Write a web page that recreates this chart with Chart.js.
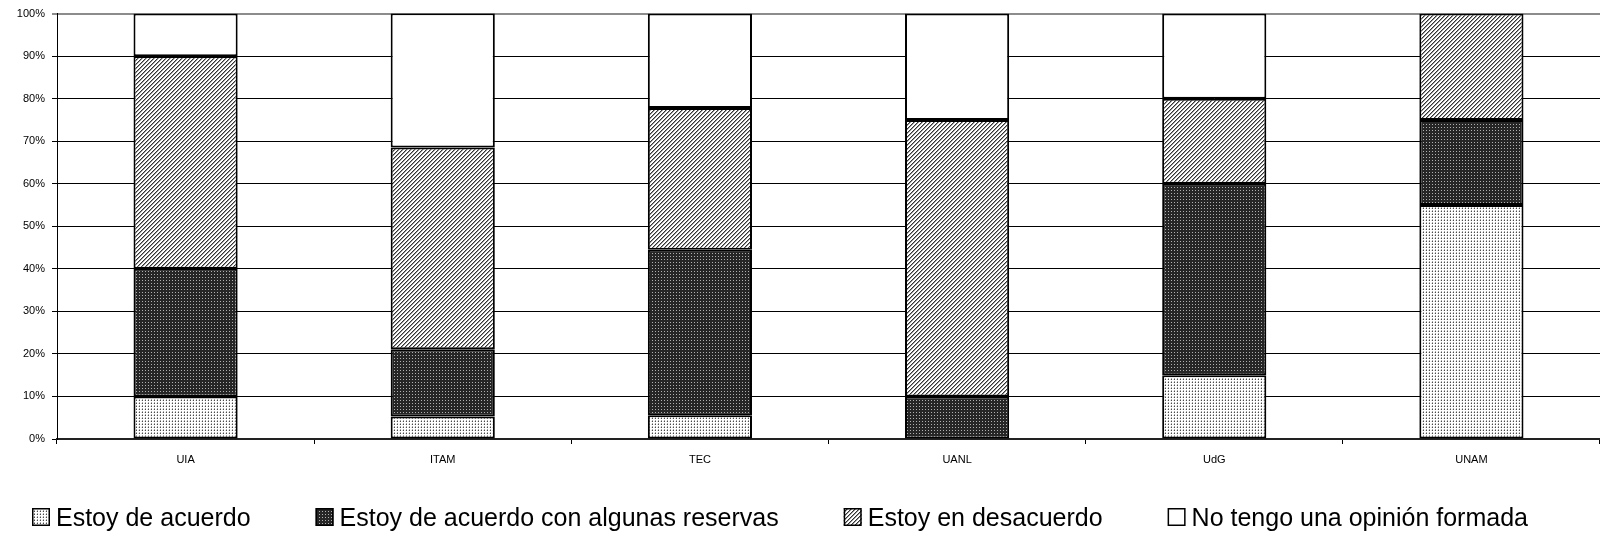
<!DOCTYPE html>
<html>
<head>
<meta charset="utf-8">
<script src="https://cdn.jsdelivr.net/npm/chart.js@4.4.1/dist/chart.umd.min.js"></script>
<style>
  html, body { margin: 0; padding: 0; background: #fff; }
  #wrap { width: 1600px; height: 538px; }
</style>
</head>
<body>
<div id="wrap"><canvas id="opinionChart"></canvas></div>
<script>
// survey answers per university (percent of respondents)
const categories = ['UIA', 'ITAM', 'TEC', 'UANL', 'UdG', 'UNAM'];
const seriesNames = ['Estoy de acuerdo', 'Estoy de acuerdo con algunas reservas', 'Estoy en desacuerdo', 'No tengo una opinión formada'];
const acuerdo = [10, 5.3, 5.6, 0, 15, 55];
const reservas = [30, 15.8, 38.9, 10, 45, 20];
const desacuerdo = [50, 47.4, 33.3, 65, 20, 25];
const sinOpinion = [10, 31.6, 22.2, 25, 20, 0];
const yTicks = [0, 10, 20, 30, 40, 50, 60, 70, 80, 90, 100];

const FONT = '"Liberation Sans", Arial, sans-serif';

function makePattern(size, draw) {
  const c = document.createElement('canvas');
  c.width = size;
  c.height = size;
  const g = c.getContext('2d');
  draw(g);
  return g.createPattern(c, 'repeat');
}

// light dotted fill
const dotsLight = makePattern(3, g => {
  g.fillStyle = '#ffffff';
  g.fillRect(0, 0, 3, 3);
  g.fillStyle = '#4a4a4a';
  g.fillRect(1, 1, 1, 1);
  g.fillStyle = '#a8a8a8';
  g.fillRect(1, 0, 1, 1);
  g.fillStyle = '#e0e0e0';
  g.fillRect(0, 1, 1, 1);
});

// dark fill with light dots
const dotsDark = makePattern(3, g => {
  g.fillStyle = '#262626';
  g.fillRect(0, 0, 3, 3);
  g.fillStyle = '#b0b0b0';
  g.fillRect(1, 1, 1, 1);
});

// diagonal "/" hatch
const hatch = makePattern(4, g => {
  g.fillStyle = '#ffffff';
  g.fillRect(0, 0, 4, 4);
  g.fillStyle = '#333333';
  for (let i = 0; i < 4; i++) g.fillRect(3 - i, i, 1, 1);
  g.fillStyle = '#9a9a9a';
  for (let i = 0; i < 4; i++) g.fillRect((4 - i) % 4, i, 1, 1);
});

const fills = [dotsLight, dotsDark, hatch, '#ffffff'];
const values = [acuerdo, reservas, desacuerdo, sinOpinion];

// legend drawn along the bottom, like the original spreadsheet chart
const bottomLegend = {
  id: 'bottomLegend',
  afterDraw(chart) {
    const ctx = chart.ctx;
    ctx.save();
    ctx.font = '25px ' + FONT;
    ctx.textBaseline = 'alphabetic';
    let x = 32;
    const base = 526;
    chart.data.datasets.forEach(ds => {
      ctx.fillStyle = ds.backgroundColor;
      ctx.fillRect(x, base - 18, 18, 18);
      ctx.strokeStyle = '#000';
      ctx.lineWidth = 1.5;
      ctx.strokeRect(x + 0.75, base - 17.25, 16.5, 16.5);
      ctx.fillStyle = '#000';
      ctx.fillText(ds.label, x + 24, base);
      x += 24 + ctx.measureText(ds.label).width + 65;
    });
    ctx.restore();
  }
};

const ctx = document.getElementById('opinionChart').getContext('2d');
new Chart(ctx, {
  type: 'bar',
  data: {
    labels: categories,
    datasets: seriesNames.map((name, i) => ({
      label: name,
      data: values[i],
      backgroundColor: fills[i],
      borderColor: '#000',
      borderWidth: 2,
      borderSkipped: false,
      categoryPercentage: 1,
      barPercentage: 0.405
    }))
  },
  options: {
    responsive: true,
    maintainAspectRatio: false,
    animation: false,
    layout: { padding: { top: 11, right: 0, bottom: 60, left: 0 } },
    plugins: {
      legend: { display: false },
      tooltip: { enabled: false }
    },
    scales: {
      x: {
        stacked: true,
        afterFit: scale => { scale.height = 39; },
        grid: {
          display: true,
          offset: true,
          drawOnChartArea: false,
          drawTicks: true,
          tickLength: 5,
          color: '#000'
        },
        border: { display: true, color: '#222', width: 2 },
        ticks: {
          color: '#000',
          padding: 9,
          font: { family: FONT, size: 11 }
        }
      },
      y: {
        stacked: true,
        min: 0,
        max: 100,
        afterFit: scale => { scale.width = 57; },
        afterBuildTicks: scale => { scale.ticks = yTicks.map(v => ({ value: v })); },
        grid: {
          color: c => (c.tick && c.tick.value === 100 ? '#8c8c8c' : '#000'),
          lineWidth: c => (c.tick && c.tick.value === 100 ? 2 : 1),
          tickLength: 5,
          drawTicks: true
        },
        border: { display: true, color: '#000', width: 1 },
        ticks: {
          color: '#000',
          padding: 7,
          font: { family: FONT, size: 11 },
          callback: v => v + '%'
        }
      }
    }
  },
  plugins: [bottomLegend]
});
</script>
</body>
</html>
